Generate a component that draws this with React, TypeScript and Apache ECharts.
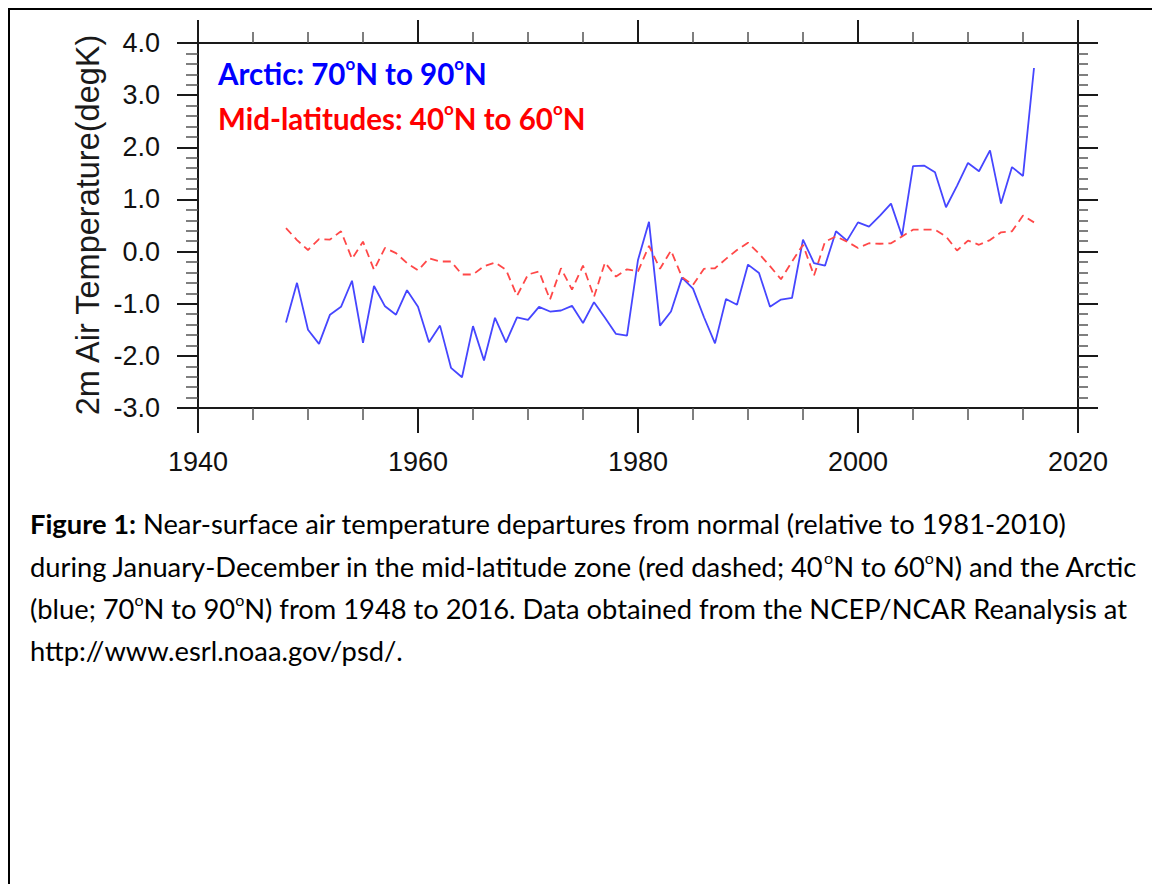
import React, { useEffect, useRef } from "react";
import * as echarts from "echarts";

const years = [
  1948, 1949, 1950, 1951, 1952, 1953, 1954, 1955, 1956, 1957, 1958, 1959,
  1960, 1961, 1962, 1963, 1964, 1965, 1966, 1967, 1968, 1969, 1970, 1971,
  1972, 1973, 1974, 1975, 1976, 1977, 1978, 1979, 1980, 1981, 1982, 1983,
  1984, 1985, 1986, 1987, 1988, 1989, 1990, 1991, 1992, 1993, 1994, 1995,
  1996, 1997, 1998, 1999, 2000, 2001, 2002, 2003, 2004, 2005, 2006, 2007,
  2008, 2009, 2010, 2011, 2012, 2013, 2014, 2015, 2016,
];

const arctic = [
  -1.36, -0.6, -1.5, -1.77, -1.21, -1.06, -0.56, -1.75, -0.66, -1.05, -1.21, -0.74,
  -1.06, -1.74, -1.42, -2.23, -2.41, -1.43, -2.09, -1.27, -1.74, -1.26, -1.31, -1.06,
  -1.15, -1.13, -1.04, -1.37, -0.97, -1.27, -1.58, -1.61, -0.16, 0.57, -1.42, -1.15,
  -0.5, -0.71, -1.26, -1.76, -0.91, -1.02, -0.25, -0.41, -1.06, -0.92, -0.89, 0.23,
  -0.22, -0.27, 0.39, 0.21, 0.56, 0.48, 0.69, 0.92, 0.3, 1.64, 1.65, 1.52,
  0.85, 1.26, 1.7, 1.54, 1.94, 0.92, 1.62, 1.45, 3.52,
];

const midLatitudes = [
  0.45, 0.22, 0.03, 0.24, 0.23, 0.39, -0.14, 0.19, -0.35, 0.07, -0.03, -0.22,
  -0.36, -0.13, -0.19, -0.19, -0.44, -0.44, -0.28, -0.21, -0.35, -0.85, -0.44, -0.38,
  -0.92, -0.32, -0.73, -0.27, -0.87, -0.21, -0.48, -0.34, -0.38, 0.11, -0.33, 0.02,
  -0.49, -0.64, -0.33, -0.32, -0.14, 0.03, 0.17, -0.04, -0.28, -0.53, -0.19, 0.13,
  -0.46, 0.19, 0.29, 0.19, 0.07, 0.16, 0.15, 0.16, 0.29, 0.42, 0.42, 0.42,
  0.29, 0.02, 0.21, 0.13, 0.22, 0.37, 0.39, 0.69, 0.56,
];

const yAxisTitle = "2m Air Temperature(degK)";
const legendArctic = "{b|Arctic: 70}{s|o}{b|N to 90}{s|o}{b|N}";
const legendMid = "{b|Mid-latitudes: 40}{s|o}{b|N to 60}{s|o}{b|N}";
const captionLines = [
  "{b|Figure 1:}{r| Near-surface air temperature departures from normal (relative to 1981-2010)}",
  "{r|during January-December in the mid-latitude zone (red dashed; 40}{s|o}{r|N to 60}{s|o}{r|N) and the Arctic}",
  "{r|(blue; 70}{s|o}{r|N to 90}{s|o}{r|N) from 1948 to 2016. Data obtained from the NCEP/NCAR Reanalysis at}",
  "{r|http://www.esrl.noaa.gov/psd/.}",
];

export default function App() {
  const ref = useRef<HTMLDivElement>(null);

  useEffect(() => {
    const chart = echarts.init(ref.current!, null, { renderer: "svg" });
    const axisColor = "#1a1a1a";
    const tickFont = "Liberation Sans";

    const makeX = (pos: string, showLabel: boolean, tickLen: number, minorLen: number) => ({
      type: "value",
      position: pos,
      min: 1940,
      max: 2020,
      interval: 20,
      axisLine: { show: true, onZero: false, lineStyle: { color: axisColor, width: 2 } },
      axisTick: { show: true, inside: false, length: tickLen, lineStyle: { color: axisColor, width: 2 } },
      minorTick: { show: true, splitNumber: 4, length: minorLen, lineStyle: { color: "#555", width: 1.5 } },
      axisLabel: {
        show: showLabel,
        fontSize: 27,
        fontFamily: tickFont,
        color: "#111",
        margin: 40,
        formatter: (v: number) => String(v),
      },
      splitLine: { show: false },
      minorSplitLine: { show: false },
    });

    const makeY = (pos: string, showLabel: boolean, tickLen: number, minorLen: number) => ({
      type: "value",
      position: pos,
      min: -3,
      max: 4,
      interval: 1,
      axisLine: { show: true, onZero: false, lineStyle: { color: axisColor, width: 2 } },
      axisTick: { show: true, inside: false, length: tickLen, lineStyle: { color: axisColor, width: 2 } },
      minorTick: { show: true, splitNumber: 5, length: minorLen, lineStyle: { color: "#555", width: 1.5 } },
      axisLabel: {
        show: showLabel,
        fontSize: 27,
        fontFamily: tickFont,
        color: "#111",
        margin: 38,
        formatter: (v: number) => v.toFixed(1),
      },
      splitLine: { show: false },
      minorSplitLine: { show: false },
    });

    const legendRich = (color: string) => ({
      b: { fontFamily: "Lato", fontWeight: "bold", fontSize: 29.5, fill: color, lineHeight: 36 },
      s: { fontFamily: "Lato", fontWeight: "bold", fontSize: 17, fill: color, lineHeight: 19, verticalAlign: "top" },
    });

    const captionRich = {
      b: { fontFamily: "Lato", fontWeight: "bold", fontSize: 27.3, fill: "#000", lineHeight: 33 },
      r: { fontFamily: "Lato", fontSize: 27.3, fill: "#000", lineHeight: 33 },
      s: { fontFamily: "Lato", fontSize: 16, fill: "#000", lineHeight: 18, verticalAlign: "top" },
    };
    const captionY = [523, 566, 608, 650];

    chart.setOption({
      animation: false,
      backgroundColor: "#fff",
      grid: { left: 198, top: 43, width: 880, height: 365, containLabel: false },
      xAxis: [makeX("bottom", true, 25, 12), makeX("top", false, 23, 11)],
      yAxis: [makeY("left", true, 21, 12), makeY("right", false, 20, 10)],
      series: [
        {
          name: "Arctic",
          type: "line",
          xAxisIndex: 0,
          yAxisIndex: 0,
          showSymbol: false,
          data: years.map((y, i) => [y, arctic[i]]),
          lineStyle: { color: "#4646ff", width: 1.8 },
          z: 3,
        },
        {
          name: "Mid-latitudes",
          type: "line",
          xAxisIndex: 0,
          yAxisIndex: 0,
          showSymbol: false,
          data: years.map((y, i) => [y, midLatitudes[i]]),
          lineStyle: { color: "#ff4848", width: 1.8, type: [8, 5] },
          z: 4,
        },
      ],
      graphic: [
        { type: "line", shape: { x1: 8, y1: 9, x2: 1152, y2: 9 }, style: { stroke: "#000", lineWidth: 2 } },
        { type: "line", shape: { x1: 9, y1: 8, x2: 9, y2: 884 }, style: { stroke: "#000", lineWidth: 2 } },
        { type: "rect", shape: { x: 200, y: 41.5, width: 436, height: 100 }, style: { fill: "#fff" } },
        { type: "line", shape: { x1: 200, y1: 43.5, x2: 636, y2: 43.5 }, style: { stroke: "#cfcfcf", lineWidth: 1 } },
        {
          type: "text",
          x: 218,
          y: 73,
          style: { text: legendArctic, rich: legendRich("#0000ff"), align: "left", verticalAlign: "middle" },
        },
        {
          type: "text",
          x: 218,
          y: 118,
          style: { text: legendMid, rich: legendRich("#ff0000"), align: "left", verticalAlign: "middle" },
        },
        {
          type: "text",
          x: 88,
          y: 225,
          rotation: Math.PI / 2,
          style: {
            text: yAxisTitle,
            fontFamily: tickFont,
            fontSize: 32.5,
            fill: "#1a1a1a",
            align: "center",
            verticalAlign: "middle",
          },
        },
        ...captionLines.map((t, i) => ({
          type: "text",
          x: 30,
          y: captionY[i],
          style: { text: t, rich: captionRich, align: "left", verticalAlign: "middle" },
        })),
      ],
    });

    return () => chart.dispose();
  }, []);

  return (
    <div
      ref={ref}
      style={{ position: "absolute", left: 0, top: 0, width: 1152, height: 884, background: "#fff" }}
    />
  );
}
